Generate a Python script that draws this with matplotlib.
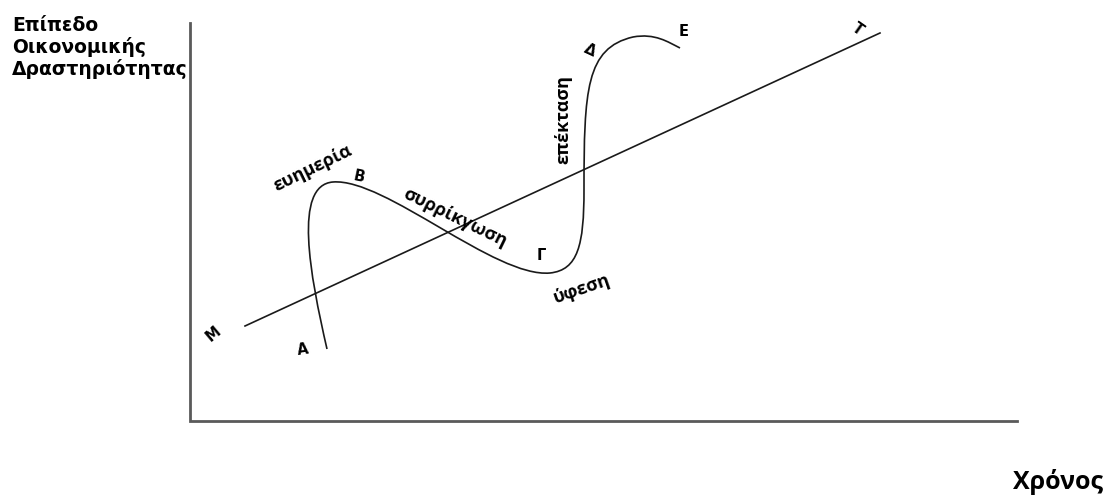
import matplotlib

matplotlib.use("Agg")
import matplotlib.pyplot as plt
from matplotlib.patches import PathPatch
from matplotlib.path import Path

# everything in picture pixel coords (x right, y down)
AXIS_X = [190, 190, 1017]
AXIS_Y = [23, 421, 421]

TREND_X = [245, 880]
TREND_Y = [326, 33]

# business cycle curve: start point then cubic bezier segments (ctrl, ctrl, end)
CYCLE_PTS = [
    (327, 349),
    (310, 275), (293, 185), (333, 182),
    (385, 178), (495, 278), (550, 273),
    (578, 270), (584, 245), (584, 190),
    (584, 90), (586, 48), (633, 37),
    (655, 33), (668, 42), (680, 48),
]

# letters: text, x, y, rotation
LETTERS = [
    ("M", 213, 334, 40),
    ("A", 303, 350, 8),
    ("B", 359, 177, -12),
    ("Γ", 541, 256, 0),
    ("Δ", 590, 50, -25),
    ("E", 684, 32, 0),
    ("T", 858, 29, -35),
]

# phase words: text, x, y, rotation
PHASES = [
    ("ευημερία", 313, 168, 26),
    ("συρρίκγωση", 455, 218, -26),
    ("επέκταση", 563, 120, 90),
    ("ύφεση", 582, 289, 19),
]

Y_LABEL_LINES = ["Επίπεδο", "Οικονομικής", "Δραστηριότητας"]
Y_LABEL_BASELINES = [31, 53, 75]
X_LABEL = "Χρόνος"


def main() -> None:
    fig = plt.figure(figsize=(11.07, 4.95), dpi=100)
    ax = fig.add_axes([0, 0, 1, 1])
    ax.set_xlim(0, 1107)
    ax.set_ylim(495, 0)
    ax.axis("off")

    ax.plot(AXIS_X, AXIS_Y, color="#5a5a5a", lw=2.0, solid_joinstyle="miter")
    ax.plot(TREND_X, TREND_Y, color="#1a1a1a", lw=1.2)

    codes = [Path.MOVETO] + [Path.CURVE4] * (len(CYCLE_PTS) - 1)
    ax.add_patch(PathPatch(Path(CYCLE_PTS, codes), fill=False, ec="#1a1a1a", lw=1.2))

    for txt, x, y, rot in LETTERS:
        ax.text(x, y, txt, fontsize=10.5, fontweight="bold", family="DejaVu Sans",
                rotation=rot, ha="center", va="center", rotation_mode="anchor")

    for txt, x, y, rot in PHASES:
        ax.text(x, y, txt, fontsize=13, fontweight="bold", family="Open Sans",
                rotation=rot, ha="center", va="center", rotation_mode="anchor")

    for txt, yb in zip(Y_LABEL_LINES, Y_LABEL_BASELINES):
        ax.text(12, yb, txt, fontsize=13.5, fontweight="bold", family="DejaVu Sans",
                ha="left", va="baseline")
    ax.text(1103, 489, X_LABEL, fontsize=18, fontweight="bold", family="Open Sans",
            ha="right", va="baseline")

    fig.savefig("out.png", dpi=100)
    plt.close(fig)


if __name__ == "__main__":
    main()
